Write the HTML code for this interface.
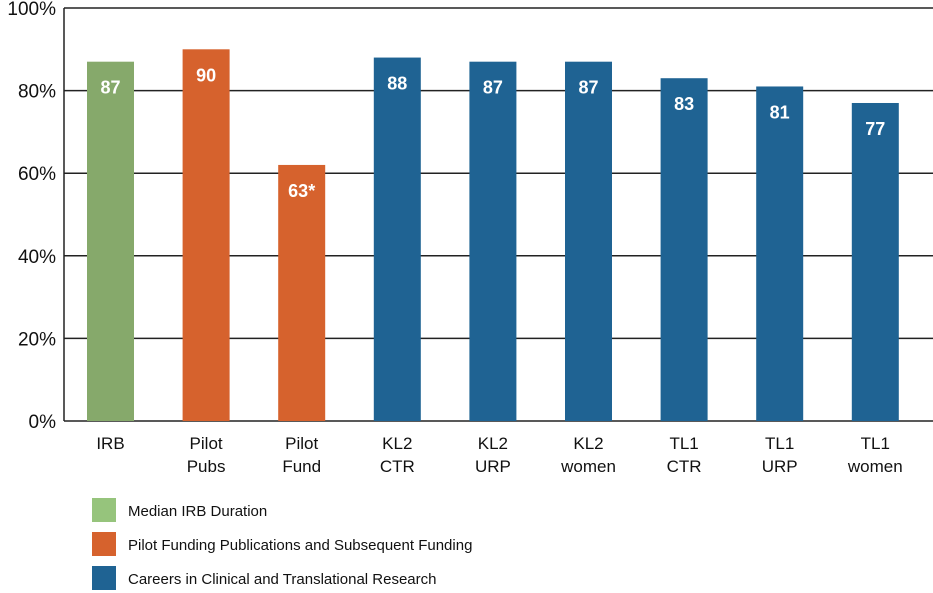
<!DOCTYPE html>
<html><head><meta charset="utf-8"><style>
body{margin:0;background:#fff;}
svg{display:block;font-family:"Liberation Sans",sans-serif;}
</style></head><body>
<svg id="chart" width="933" height="593"></svg>
<script>
const categories=[["IRB"],["Pilot","Pubs"],["Pilot","Fund"],["KL2","CTR"],["KL2","URP"],["KL2","women"],["TL1","CTR"],["TL1","URP"],["TL1","women"]];
const values=[87,90,62,88,87,87,83,81,77];
const valueLabels=["87","90","63*","88","87","87","83","81","77"];
const groups=[0,1,1,2,2,2,2,2,2];
const yTicks=[0,20,40,60,80,100];
const legendLabels=["Median IRB Duration","Pilot Funding Publications and Subsequent Funding","Careers in Clinical and Translational Research"];
const barColors=["#86a96b","#d6622d","#1f6393"];
const legendColors=["#96c47c","#d6622d","#1f6393"];
const NS="http://www.w3.org/2000/svg";
const svg=document.getElementById('chart');
const x0=64,x1=933,yTop=8,yBot=421;
const y=v=>yBot-(v/100)*(yBot-yTop);
const xc=i=>110.5+i*95.6;
function mk(t,a,p){const e=document.createElementNS(NS,t);for(const k in a)e.setAttribute(k,a[k]);(p||svg).appendChild(e);return e;}
yTicks.forEach(t=>{
 const l=mk('line',{x1:x0,x2:x1,y1:y(t),y2:y(t),stroke:'#222','stroke-width':1.5});
 
 
 const tx=mk('text',{x:56,y:y(t)+7,'text-anchor':'end','font-size':19,fill:'#111'});
 tx.textContent=t+'%';
 
 
});
const ax=mk('line',{x1:x0,x2:x0,y1:yTop,y2:yBot,stroke:'#222','stroke-width':1.5});


values.forEach((v,i)=>{
 const r=mk('rect',{x:xc(i)-23.5,y:y(v),width:47,height:yBot-y(v),fill:barColors[groups[i]]});
 
 
 const t=mk('text',{x:xc(i),y:y(v)+32,'text-anchor':'middle','font-size':18,'font-weight':'bold',fill:'#fff'});
 t.textContent=valueLabels[i];
 
 
 categories[i].forEach((s,j)=>{
  const c=mk('text',{x:xc(i),y:449+j*23,'text-anchor':'middle','font-size':17,fill:'#111'});
  c.textContent=s;
  
  
 });
});
legendLabels.forEach((s,i)=>{
 const r=mk('rect',{x:92,y:498+i*34,width:24,height:24,fill:legendColors[i]});
 
 
 const t=mk('text',{x:128,y:516+i*34,'font-size':15,fill:'#111'});
 t.textContent=s;
 
 
});
</script>
</body></html>
